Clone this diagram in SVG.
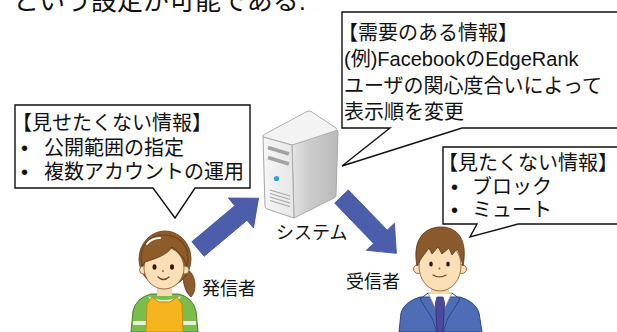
<svg xmlns="http://www.w3.org/2000/svg" width="617" height="332" viewBox="0 0 617 332">
  <style>
    .t { font-family: "Liberation Sans", "Noto Sans CJK JP", sans-serif; fill: #111; }
    .callout { fill: #fff; stroke: #111; stroke-width: 1.4; stroke-linejoin: miter; }
    .flow { fill: #4b5dab; stroke: #41529e; stroke-width: 0.8; }
    .skin { fill: #fbdfb6; stroke: #7a5532; stroke-width: 0.8; }
    .hairW { fill: #8e5b2b; stroke: #5a3818; stroke-width: 0.8; }
    .hairM { fill: #8a5a2c; stroke: #553515; stroke-width: 0.8; }
    .eye { fill: #2b1a10; }
    .line { fill: none; stroke: #6b3f22; stroke-width: 1.2; stroke-linecap: round; }
  </style>
  <defs>
    <!-- block arrow pointing along +x, rotated into place -->
    <path id="blockArrow" d="M0,-9.5 H56 V-19.5 L79,0 L56,19.5 V9.5 H0 Z"/>
    <linearGradient id="srvSide" x1="0" y1="0" x2="1" y2="0">
      <stop offset="0" stop-color="#e4e4e4"/>
      <stop offset="0.35" stop-color="#cdcdcd"/>
      <stop offset="1" stop-color="#b9b9b9"/>
    </linearGradient>
    <linearGradient id="srvFront" x1="0" y1="0" x2="1" y2="0">
      <stop offset="0" stop-color="#f6f6f6"/>
      <stop offset="1" stop-color="#e6e6e6"/>
    </linearGradient>
  </defs>

  <rect width="617" height="332" fill="#fff"/>

  <!-- clipped line of running text above -->
  <text class="t" x="13" y="10" font-size="26">という設定が可能である.</text>

  <!-- connectors -->
  <g id="connectors">
    <use href="#blockArrow" class="flow" transform="translate(198,249) rotate(-40)"/>
    <use href="#blockArrow" class="flow" transform="translate(341.5,196.5) rotate(46)"/>
  </g>

  <!-- server -->
  <g id="system">
    <path d="M292,145 L335,130 Q338,129 338,132 L336,195 Q336,197 334,198 L294,218 Z" fill="url(#srvSide)" stroke="#a8a8a8" stroke-width="1"/>
    <path d="M263,137 Q262,135 265,134 L306,112 Q309,110 312,112 L336,128 Q338,130 335,131 L292,145 Z" fill="#f3f3f3" stroke="#b0b0b0" stroke-width="1"/>
    <path d="M263,137 L292,145 L294,218 L267,209 Q265,208 265,206 Z" fill="url(#srvFront)" stroke="#a8a8a8" stroke-width="1"/>
    <line x1="268" y1="147.5" x2="289" y2="154" stroke="#a3a3a3" stroke-width="3.5"/>
    <line x1="268" y1="157.5" x2="289" y2="164" stroke="#a3a3a3" stroke-width="3.5"/>
    <circle cx="276.5" cy="178.5" r="2.6" fill="#2ba2e4"/>
    <g stroke="#a8a8a8" stroke-width="1.2">
      <line x1="270" y1="190" x2="290" y2="196"/>
      <line x1="270" y1="193.5" x2="290" y2="199.5"/>
      <line x1="270" y1="197" x2="290" y2="203"/>
      <line x1="270" y1="200.5" x2="290" y2="206.5"/>
    </g>
    <text class="t" x="276" y="239" font-size="18">システム</text>
  </g>

  <!-- callout: information in demand -->
  <g id="demand-info">
    <path class="callout" d="M342,12 H625 V128 H462 L342,166 L390,128 H342 Z"/>
    <text class="t" font-size="20">
      <tspan x="338" y="40">【需要のある情報】</tspan>
      <tspan x="344" y="66">(例)FacebookのEdgeRank</tspan>
      <tspan x="344" y="93">ユーザの関心度合いによって</tspan>
      <tspan x="344" y="119">表示順を変更</tspan>
    </text>
  </g>

  <!-- callout: information the sender hides -->
  <g id="hide-info">
    <path class="callout" d="M15,105 H250 V188 H195 L175,218 L153,188 H15 Z"/>
    <text class="t" font-size="20">
      <tspan x="12" y="130">【見せたくない情報】</tspan>
    </text>
    <text class="t" font-size="20"><tspan x="21" y="155">•</tspan><tspan x="44" y="155">公開範囲の指定</tspan></text>
    <text class="t" font-size="20"><tspan x="21" y="179">•</tspan><tspan x="44" y="179">複数アカウントの運用</tspan></text>
  </g>

  <!-- callout: information the receiver avoids -->
  <g id="avoid-info">
    <path class="callout" d="M443,147 H625 V224 H518 L470,237 L477,224 H443 Z"/>
    <text class="t" font-size="20">
      <tspan x="438" y="170">【見たくない情報】</tspan>
    </text>
    <text class="t" font-size="20"><tspan x="451" y="194">•</tspan><tspan x="472" y="194">ブロック</tspan></text>
    <text class="t" font-size="20"><tspan x="451" y="217">•</tspan><tspan x="472" y="217">ミュート</tspan></text>
  </g>

  <!-- sender figure -->
  <g id="sender">
    <path class="hairW" d="M183,268 C196,270 198,290 191,297 C186,293 182,284 183,268 Z"/>
    <ellipse class="hairW" cx="165" cy="259" rx="26" ry="28"/>
    <path d="M131,332 L133,311 Q136,298 151,294 L179,294 Q193,298 196,311 L198,332 Z" fill="#79be4c" stroke="#4f7a33" stroke-width="1"/>
    <path d="M133,321 L146,321 L146,325 L133,325 Z M183,321 L196,321 L196,325 L183,325 Z" fill="#e8f2de"/>
    <path d="M148,296 Q164,304 181,296 L179,300 Q164,307 150,300 Z" fill="#dff0d0"/>
    <path d="M146,332 L147,304 L152,297 L159,302 L170,302 L177,297 L182,304 L183,332 Z" fill="#f6b41e" stroke="#c98a10" stroke-width="1"/>
    <rect x="157" y="283" width="15" height="13" fill="#f8d9ae"/>
    <circle class="skin" cx="143.5" cy="270" r="4"/>
    <circle class="skin" cx="185" cy="270" r="4"/>
    <ellipse class="skin" cx="164" cy="268" rx="20" ry="21"/>
    <path class="hairW" d="M142,266 C138,242 152,234 166,235 C181,236 191,248 187,266 C184,257 178,251 172,247 C168,254 158,258 145,262 Z"/>
    <path d="M147,244 C150,240 155,238 160,238" stroke="#fff" stroke-width="2" fill="none" stroke-linecap="round"/>
    <ellipse class="eye" cx="154.5" cy="267" rx="2" ry="2.8"/>
    <ellipse class="eye" cx="172" cy="267" rx="2" ry="2.8"/>
    <circle cx="163" cy="271" r="0.9" fill="#8a5a3a"/>
    <path class="line" d="M158,277 Q163.5,282 169,277"/>
    <text class="t" x="202" y="295" font-size="18">発信者</text>
  </g>

  <!-- receiver figure -->
  <g id="receiver">
    <path d="M399,332 L401,313 Q404,302 420,297 L460,297 Q476,302 479,313 L482,332 Z" fill="#4f6db6" stroke="#2f4585" stroke-width="1"/>
    <path d="M428,293 L452,293 L440,318 Z" fill="#fff" stroke="#8a8a9a" stroke-width="0.8"/>
    <path d="M437,297 L443,297 L444.5,303 L443,332 L437,332 L435.5,303 Z" fill="#4b4a9c" stroke="#2e2d6b" stroke-width="0.8"/>
    <path d="M428,293 L420,299 L432,318 L437,332 M452,293 L460,299 L448,318 L443,332" fill="none" stroke="#2f4585" stroke-width="1"/>
    <rect x="431" y="285" width="18" height="9" fill="#f8d9ae"/>
    <circle class="skin" cx="418" cy="269" r="4.5"/>
    <circle class="skin" cx="462" cy="269" r="4.5"/>
    <ellipse class="skin" cx="440" cy="266" rx="21" ry="25"/>
    <path class="hairM" d="M417,266 C412,240 424,227 441,227 C458,227 468,240 463,266 C461,258 459,252 457,249 L452,255 L449,248 L442,254 L438,247 L432,254 L429,248 L423,256 C421,259 419,262 417,266 Z"/>
    <ellipse class="eye" cx="431" cy="264" rx="1.8" ry="2.6"/>
    <ellipse class="eye" cx="448" cy="264" rx="1.8" ry="2.6"/>
    <circle cx="439.5" cy="268.5" r="0.9" fill="#8a5a3a"/>
    <path class="line" d="M433,275 Q439.5,279 446,275"/>
    <text class="t" x="346" y="288" font-size="18">受信者</text>
  </g>
</svg>
